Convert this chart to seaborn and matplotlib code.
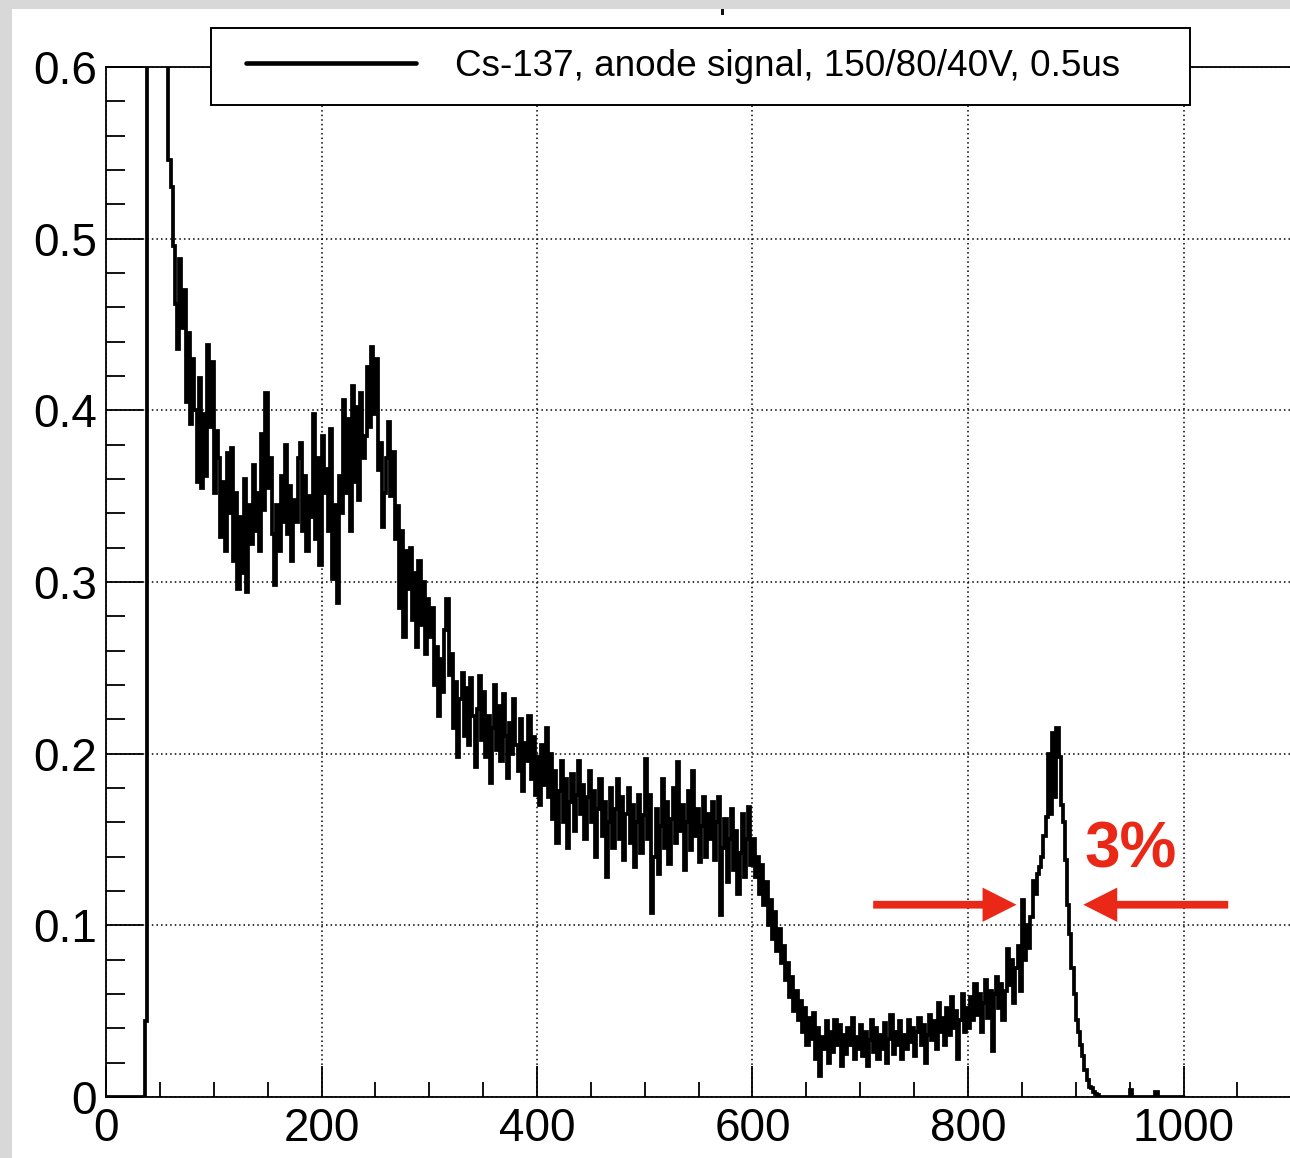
import numpy as np
import pandas as pd
import matplotlib
matplotlib.use("Agg")
import matplotlib.pyplot as plt
import seaborn as sns
from matplotlib.lines import Line2D
from matplotlib.patches import Rectangle, FancyArrow
from matplotlib.legend_handler import HandlerLine2D
from matplotlib.ticker import MultipleLocator, FixedLocator, FixedFormatter

# ---------------------------------------------------------------------------
# Spectrum: 2-channel bins from 0 to 1000, one list per 100 channels
# ---------------------------------------------------------------------------
BIN_WIDTH = 2

counts_000 = [
    0, 0, 0, 0, 0, 0, 0, 0, 0, 0,
    0, 0, 0, 0, 0, 0, 0, 0, 0.044, 0.92,
    1.35, 1.60, 1.48, 1.22, 1.05, 0.88, 0.76, 0.68, 0.62, 0.546,
    0.530, 0.496, 0.462, 0.436, 0.488, 0.448, 0.470, 0.405, 0.445, 0.392,
    0.430, 0.400, 0.358, 0.419, 0.355, 0.398, 0.362, 0.438, 0.390, 0.428,
]
counts_100 = [
    0.352, 0.388, 0.372, 0.326, 0.358, 0.318, 0.375, 0.340, 0.378, 0.312,
    0.352, 0.296, 0.338, 0.305, 0.360, 0.294, 0.345, 0.322, 0.368, 0.330,
    0.352, 0.318, 0.386, 0.342, 0.410, 0.355, 0.372, 0.328, 0.298, 0.345,
    0.318, 0.362, 0.335, 0.380, 0.328, 0.356, 0.312, 0.348, 0.335, 0.372,
    0.381, 0.330, 0.362, 0.318, 0.350, 0.338, 0.398, 0.325, 0.372, 0.310,
]
counts_200 = [
    0.385, 0.352, 0.366, 0.330, 0.389, 0.302, 0.345, 0.288, 0.362, 0.340,
    0.406, 0.352, 0.395, 0.330, 0.414, 0.358, 0.402, 0.348, 0.410, 0.372,
    0.385, 0.425, 0.390, 0.437, 0.398, 0.430, 0.365, 0.381, 0.332, 0.352,
    0.372, 0.393, 0.350, 0.376, 0.325, 0.344, 0.285, 0.330, 0.268, 0.318,
    0.296, 0.320, 0.278, 0.305, 0.262, 0.312, 0.275, 0.300, 0.258, 0.290,
]
counts_300 = [
    0.268, 0.285, 0.240, 0.262, 0.222, 0.255, 0.236, 0.272, 0.290, 0.246,
    0.258, 0.215, 0.242, 0.198, 0.232, 0.247, 0.210, 0.238, 0.205, 0.244,
    0.222, 0.192, 0.226, 0.245, 0.208, 0.236, 0.198, 0.222, 0.183, 0.215,
    0.240, 0.202, 0.228, 0.196, 0.235, 0.210, 0.186, 0.218, 0.200, 0.232,
    0.205, 0.190, 0.220, 0.178, 0.206, 0.196, 0.222, 0.185, 0.210, 0.176,
]
counts_400 = [
    0.198, 0.170, 0.205, 0.182, 0.215, 0.175, 0.200, 0.162, 0.190, 0.148,
    0.178, 0.196, 0.160, 0.185, 0.145, 0.172, 0.188, 0.155, 0.176, 0.196,
    0.165, 0.182, 0.150, 0.175, 0.190, 0.160, 0.178, 0.140, 0.168, 0.185,
    0.152, 0.172, 0.128, 0.160, 0.180, 0.145, 0.168, 0.185, 0.150, 0.175,
    0.138, 0.165, 0.180, 0.148, 0.170, 0.134, 0.160, 0.176, 0.142, 0.164,
]
counts_500 = [
    0.197, 0.150, 0.176, 0.107, 0.140, 0.168, 0.130, 0.158, 0.185, 0.145,
    0.172, 0.136, 0.162, 0.180, 0.148, 0.195, 0.155, 0.170, 0.132, 0.160,
    0.178, 0.144, 0.190, 0.152, 0.168, 0.137, 0.158, 0.175, 0.140, 0.165,
    0.150, 0.172, 0.138, 0.160, 0.175, 0.106, 0.145, 0.162, 0.125, 0.150,
    0.168, 0.132, 0.155, 0.118, 0.142, 0.165, 0.128, 0.150, 0.169, 0.135,
]
counts_600 = [
    0.150, 0.128, 0.140, 0.118, 0.135, 0.112, 0.125, 0.100, 0.115, 0.092,
    0.108, 0.085, 0.098, 0.078, 0.088, 0.068, 0.078, 0.058, 0.070, 0.050,
    0.062, 0.045, 0.056, 0.038, 0.052, 0.030, 0.046, 0.034, 0.049, 0.022,
    0.040, 0.012, 0.035, 0.028, 0.044, 0.020, 0.038, 0.026, 0.045, 0.030,
    0.042, 0.018, 0.036, 0.025, 0.040, 0.030, 0.046, 0.022, 0.035, 0.028,
]
counts_700 = [
    0.042, 0.024, 0.038, 0.018, 0.033, 0.045, 0.026, 0.040, 0.022, 0.036,
    0.028, 0.043, 0.020, 0.034, 0.048, 0.025, 0.038, 0.030, 0.044, 0.022,
    0.036, 0.028, 0.045, 0.032, 0.040, 0.024, 0.038, 0.046, 0.030, 0.042,
    0.020, 0.036, 0.048, 0.033, 0.044, 0.028, 0.055, 0.038, 0.046, 0.030,
    0.052, 0.036, 0.058, 0.040, 0.050, 0.022, 0.045, 0.060, 0.038, 0.052,
]
counts_800 = [
    0.040, 0.058, 0.045, 0.066, 0.048, 0.060, 0.038, 0.055, 0.068, 0.046,
    0.062, 0.027, 0.060, 0.070, 0.052, 0.066, 0.045, 0.062, 0.086, 0.065,
    0.080, 0.055, 0.075, 0.088, 0.062, 0.115, 0.080, 0.100, 0.087, 0.105,
    0.126, 0.118, 0.130, 0.134, 0.140, 0.152, 0.163, 0.200, 0.165, 0.212,
    0.175, 0.215, 0.198, 0.170, 0.160, 0.138, 0.112, 0.095, 0.075, 0.060,
]
counts_900 = [
    0.045, 0.038, 0.030, 0.024, 0.016, 0.010, 0.006, 0.005, 0.003, 0.002,
    0.001, 0, 0, 0, 0, 0, 0, 0, 0, 0,
    0, 0, 0, 0, 0, 0.004, 0, 0, 0, 0,
    0, 0, 0, 0, 0, 0, 0, 0.003, 0, 0,
    0, 0, 0, 0, 0, 0, 0, 0, 0, 0,
]

counts = np.concatenate([counts_000, counts_100, counts_200, counts_300,
                         counts_400, counts_500, counts_600, counts_700,
                         counts_800, counts_900])
edges = np.arange(len(counts) + 1) * BIN_WIDTH
spectrum = pd.DataFrame({"channel": edges[:-1] + BIN_WIDTH / 2,
                         "rate": counts})

x_ticks = [0, 200, 400, 600, 800, 1000]
x_tick_labels = ["0", "200", "400", "600", "800", "1000"]
y_ticks = [0.0, 0.1, 0.2, 0.3, 0.4, 0.5, 0.6]
y_tick_labels = ["0", "0.1", "0.2", "0.3", "0.4", "0.5", "0.6"]

legend_label = "Cs-137, anode signal, 150/80/40V, 0.5us"
fwhm_label = "3%"
fwhm_level = 0.112
fwhm_left_edge = 845
fwhm_right_edge = 907

RED = "#ea2818"

# ---------------------------------------------------------------------------
# Style
# ---------------------------------------------------------------------------
sns.set_style("white")
plt.rcParams["font.family"] = ["Liberation Sans", "DejaVu Sans"]
plt.rcParams.update({
    "text.color": "black",
    "axes.labelcolor": "black",
    "xtick.color": "black",
    "ytick.color": "black",
    "axes.edgecolor": "black",
})

W, H = 1290, 1158
fig = plt.figure(figsize=(W / 100, H / 100), dpi=100, facecolor="#d8d8d8")
fig.add_artist(Rectangle((12 / W, 0), 1 - 12 / W, 1 - 9 / H,
                         transform=fig.transFigure, facecolor="white",
                         edgecolor="none", zorder=-10))
# small remnant of the canvas title stroke above the frame
fig.add_artist(Rectangle((721 / W, 1 - 15 / H), 3 / W, 6 / H,
                         transform=fig.transFigure, facecolor="#111111",
                         edgecolor="none", zorder=-5))
ax = fig.add_axes([106 / W, 1 - 1097 / H, 1 - 106 / W, (1097 - 67) / H])
ax.set_facecolor("white")

# Histogram outline
sns.histplot(data=spectrum, x="channel", weights="rate", bins=edges.tolist(),
             element="step", fill=False, color="black", linewidth=2.7, ax=ax,
             solid_joinstyle="miter")

ax.set_xlim(0, (W - 106) / 1.0775)
ax.set_ylim(0, 0.6)
ax.set_xlabel("")
ax.set_ylabel("")

# Axes, ticks and grid
ax.xaxis.set_major_locator(FixedLocator(x_ticks))
ax.xaxis.set_major_formatter(FixedFormatter(x_tick_labels))
ax.xaxis.set_minor_locator(MultipleLocator(50))
ax.yaxis.set_major_locator(FixedLocator(y_ticks))
ax.yaxis.set_major_formatter(FixedFormatter(y_tick_labels))
ax.yaxis.set_minor_locator(MultipleLocator(0.02))

ax.tick_params(axis="both", which="both", direction="in", width=1.3,
               color="black", top=False, right=False, bottom=True, left=True)
ax.tick_params(axis="x", which="major", length=22, pad=7, labelsize=33)
ax.tick_params(axis="x", which="minor", length=11)
ax.tick_params(axis="y", which="major", length=26.6, pad=6.5, labelsize=33)
ax.tick_params(axis="y", which="minor", length=13.5)

ax.grid(True, which="major", axis="both", color="black",
        linestyle=(0, (1, 2)), linewidth=1.1)
ax.set_axisbelow(True)

for side in ("left", "top", "bottom"):
    ax.spines[side].set_visible(True)
    ax.spines[side].set_linewidth(1.3)
    ax.spines[side].set_color("black")
ax.spines["right"].set_visible(False)

# FWHM markers
arrow_kw = dict(width=0.0045, head_width=0.020, head_length=31.5,
                length_includes_head=True, color=RED, lw=0, zorder=4)
ax.add_patch(FancyArrow(712, fwhm_level, fwhm_left_edge - 712, 0, **arrow_kw))
ax.add_patch(FancyArrow(1041.5, fwhm_level, fwhm_right_edge - 1041.5, 0, **arrow_kw))
ax.text(951, 0.1334, fwhm_label, color=RED, fontsize=46, fontweight="bold",
        ha="center", va="baseline", zorder=5)

# Legend box
handle = Line2D([], [], color="black", linewidth=3.3)
leg = ax.legend([handle], [legend_label],
                handler_map={handle: HandlerLine2D(numpoints=2, marker_pad=0.38)},
                loc="lower left",
                bbox_to_anchor=(211 / W, 1 - 105 / H, (1190 - 211) / W, (105 - 27) / H),
                bbox_transform=fig.transFigure, mode="expand", borderaxespad=0,
                borderpad=0.57, handlelength=5.35, handletextpad=0.68,
                fontsize=26.6, frameon=True, fancybox=False, framealpha=1,
                edgecolor="black", facecolor="white")
leg.get_frame().set_linewidth(1.4)

fig.savefig("out.png", dpi=100, facecolor=fig.get_facecolor())
